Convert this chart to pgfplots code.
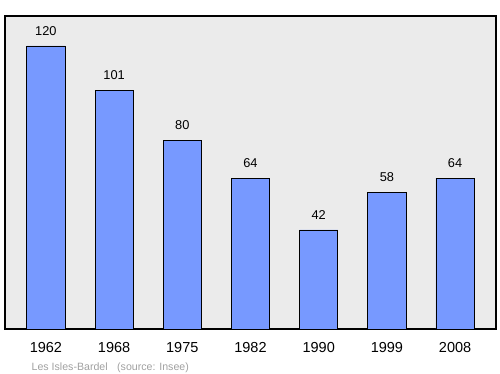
\documentclass[border=0pt]{standalone}
\usepackage{pgfplots}
\pgfplotsset{compat=1.18}
\usepackage{fontspec}
\setmainfont{Liberation Sans}
\definecolor{bg}{HTML}{EBEBEB}
\definecolor{barblue}{HTML}{7799FF}
\definecolor{foot}{HTML}{A0A0A0}
\begin{document}
\begin{tikzpicture}[x=1pt,y=1pt]
\path[use as bounding box] (-5,-45) rectangle (495,329);
\begin{axis}[
  at={(0,0)}, anchor=south west,
  scale only axis, width=491pt, height=313pt,
  xmin=-0.6, xmax=6.6, ymin=0, ymax=132.7,
  axis background/.style={fill=bg},
  axis line style={black, line width=1.3pt},
  xtick=data,
  xticklabels={1962,1968,1975,1982,1990,1999,2008},
  ytick=\empty,
  major tick length=0pt,
  xticklabel style={font=\fontsize{14.5}{16}\selectfont, yshift=-10pt},
  ybar, bar width=0.56,
  nodes near coords,
  every node near coord/.append style={font=\fontsize{12.8}{14}\selectfont, yshift=7pt},
  /pgf/number format/assume math mode=true,
]
\addplot[fill=barblue, draw=black, line width=0.8pt] coordinates {
(0,120) (1,101) (2,80) (3,64) (4,42) (5,58) (6,64)
};
\end{axis}
\node[anchor=base west, text=foot, font=\fontsize{10.6}{12}\selectfont, inner sep=0] at (26.5,-42) {Les Isles-Bardel\hspace{9.5pt}(source: Insee)};
\end{tikzpicture}
\end{document}
